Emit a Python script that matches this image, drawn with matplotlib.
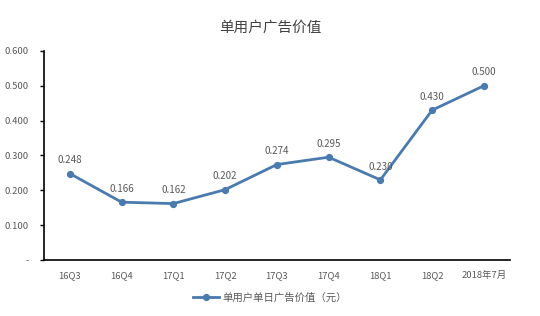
import matplotlib
matplotlib.use('Agg')
import matplotlib.pyplot as plt
from matplotlib.ticker import FuncFormatter

plt.rcParams['font.family'] = ['Noto Sans CJK SC', 'DejaVu Sans']

categories = ['16Q3', '16Q4', '17Q1', '17Q2', '17Q3', '17Q4', '18Q1', '18Q2', '2018年7月']
values = [0.248, 0.166, 0.162, 0.202, 0.274, 0.295, 0.230, 0.430, 0.500]
yticks = [0, 0.1, 0.2, 0.3, 0.4, 0.5, 0.6]

line_color = '#4a7aae'
text_color = '#595959'

fig = plt.figure(figsize=(5.4, 3.16), dpi=100)
ax = fig.add_axes([0.0815, 0.177, 0.8625, 0.662])

x = list(range(len(categories)))
ax.plot(x, values, '-o', color=line_color, linewidth=2, markersize=4.2,
        label='单用户单日广告价值（元）')
for xi, v in zip(x, values):
    ax.annotate(f'{v:.3f}', (xi, v), xytext=(0, 6), textcoords='offset points',
                ha='center', va='bottom', fontsize=7, color=text_color)

ax.set_xlim(-0.5, len(categories) - 0.5)
ax.set_ylim(0, 0.6)
ax.set_xticks(x)
ax.set_xticklabels(categories)
ax.set_yticks(yticks)
ax.yaxis.set_major_formatter(FuncFormatter(lambda v, p: '-' if v == 0 else f'{v:.3f}'))

for s in ['top', 'right']:
    ax.spines[s].set_visible(False)
for s in ['left', 'bottom']:
    ax.spines[s].set_color('black')
    ax.spines[s].set_linewidth(1.2)
ax.tick_params(axis='y', direction='out', length=3, width=1, colors='black',
               labelcolor=text_color, labelsize=6.8, pad=8)
ax.tick_params(axis='x', length=0, labelcolor=text_color, labelsize=6.8, pad=8)

fig.text(0.5, 0.912, '单用户广告价值', ha='center', va='center', fontsize=10.5, color='#404040')
fig.legend(loc='center', bbox_to_anchor=(0.5, 0.058), frameon=False, fontsize=7.5,
           labelcolor=text_color, handlelength=2.5, handletextpad=0.3)

fig.savefig('out.png', dpi=100)
